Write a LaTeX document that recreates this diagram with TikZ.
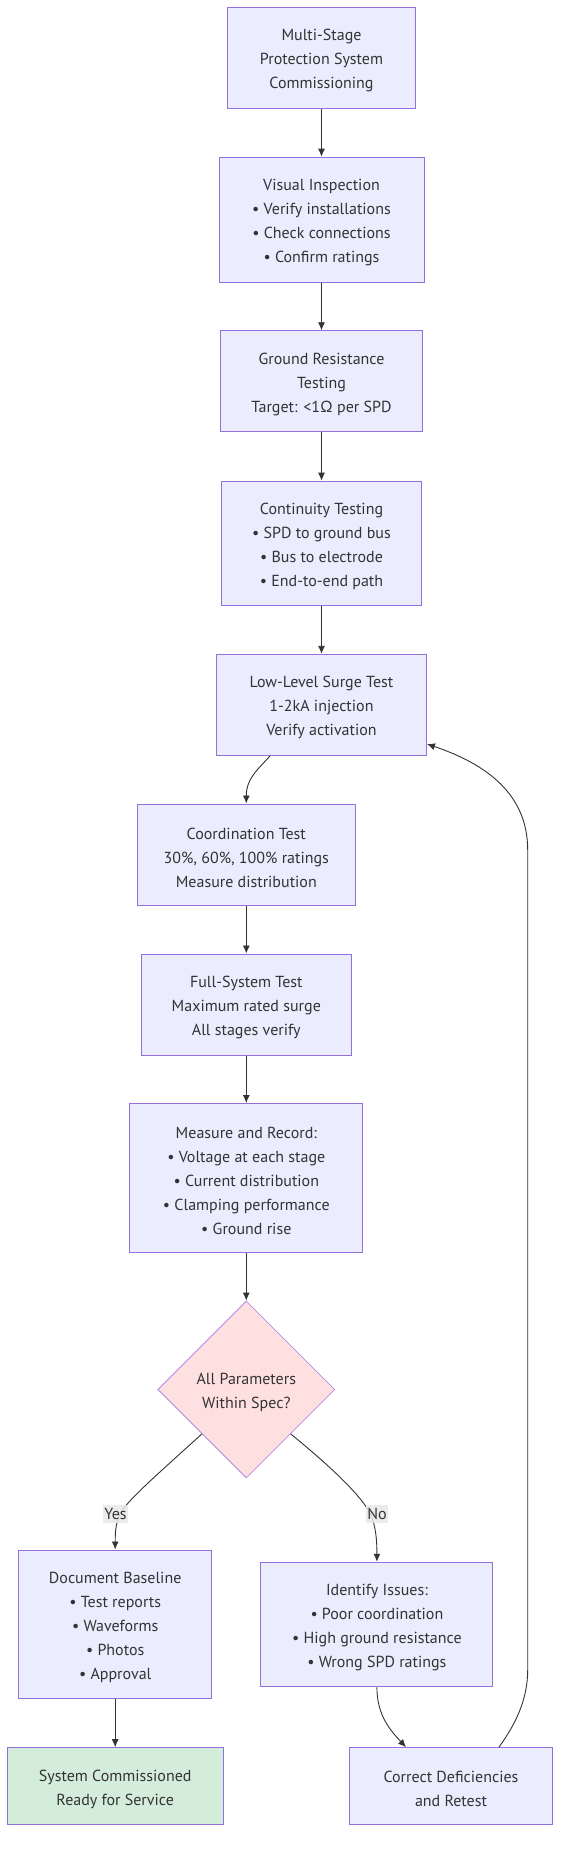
\documentclass[tikz,border=0pt]{standalone}
\usepackage{fontspec}
\setmainfont{PT Sans}
\usetikzlibrary{shapes.geometric,arrows.meta}
\definecolor{nodefill}{HTML}{ECECFF}
\definecolor{nodestroke}{HTML}{9370DB}
\definecolor{decfill}{HTML}{FFE0E0}
\definecolor{decstroke}{HTML}{B48CE8}
\definecolor{okfill}{HTML}{D4EDDA}
\definecolor{txt}{HTML}{333333}
\definecolor{edgecol}{HTML}{333333}
\definecolor{lblbg}{HTML}{E8E8E8}
\begin{document}
\begin{tikzpicture}[x=1pt,y=-1pt,
  boxtext/.style={align=center, inner sep=0pt, text=txt, font=\fontsize{16}{24}\selectfont, yshift=-3pt},
  txtin/.style={label={[boxtext]center:{#1}}},
  box/.style={draw=nodestroke, fill=nodefill, line width=1pt, inner sep=0pt},
  okbox/.style={box, fill=okfill},
  decision/.style={diamond, aspect=1, draw=decstroke, fill=decfill, line width=0.8pt, inner sep=0pt, minimum width=177pt, minimum height=177pt},
  arr/.style={draw=edgecol, line width=0.9pt, -{Latex[length=8pt,width=7pt]}},
  lbl/.style={fill=lblbg, fill opacity=0.85, text opacity=1, text=txt, inner xsep=1pt, inner ysep=3pt, font=\fontsize{16}{18}\selectfont}
]
\useasboundingbox (0,0) rectangle (568,1859);
\fill[white] (0,0) rectangle (568,1859);

\node[box, minimum width=188pt, minimum height=101pt, txtin={Multi-Stage\\Protection System\\Commissioning}] (start) at (321.5,57.8) {};
\node[box, minimum width=205pt, minimum height=125pt, txtin={Visual Inspection\\• Verify installations\\• Check connections\\• Confirm ratings}] (visual) at (321.5,219.7) {};
\node[box, minimum width=202pt, minimum height=101pt, txtin={Ground Resistance\\Testing\\Target: <1Ω per SPD}] (ground) at (321.5,381.3) {};
\node[box, minimum width=200pt, minimum height=124pt, txtin={Continuity Testing\\• SPD to ground bus\\• Bus to electrode\\• End-to-end path}] (cont) at (321.5,543.2) {};
\node[box, minimum width=210pt, minimum height=101pt, txtin={Low-Level Surge Test\\1-2kA injection\\Verify activation}] (low) at (321.5,704.8) {};
\node[box, minimum width=218pt, minimum height=101pt, txtin={Coordination Test\\30\%, 60\%, 100\% ratings\\Measure distribution}] (coord) at (246.3,854.5) {};
\node[box, minimum width=210pt, minimum height=101pt, txtin={Full-System Test\\Maximum rated surge\\All stages verify}] (full) at (246.3,1004.5) {};
\node[box, minimum width=233pt, minimum height=149pt, txtin={Measure and Record:\\• Voltage at each stage\\• Current distribution\\• Clamping performance\\• Ground rise}] (meas) at (246.3,1178) {};
\node[decision, txtin={All Parameters\\Within Spec?}] (dec) at (246.3,1389.5) {};
\node[box, minimum width=193pt, minimum height=148pt, txtin={Document Baseline\\• Test reports\\• Waveforms\\• Photos\\• Approval}] (doc) at (115.2,1624) {};
\node[box, minimum width=232pt, minimum height=124.5pt, txtin={Identify Issues:\\• Poor coordination\\• High ground resistance\\• Wrong SPD ratings}] (ident) at (376.9,1624.5) {};
\node[okbox, minimum width=216pt, minimum height=77pt, txtin={System Commissioned\\Ready for Service}] (sys) at (115.2,1786.2) {};
\node[box, minimum width=203pt, minimum height=77pt, txtin={Correct Deficiencies\\and Retest}] (corr) at (451,1786.2) {};

\draw[arr] (start) -- (visual);
\draw[arr] (visual) -- (ground);
\draw[arr] (ground) -- (cont);
\draw[arr] (cont) -- (low);
\draw[arr] ([xshift=-51.3pt]low.south) .. controls (255,772) and (246.3,780) .. (coord.north);
\draw[arr] (coord) -- (full);
\draw[arr] (full) -- (meas);
\draw[arr] (meas) -- (dec);
\draw[arr] (dec.south west) .. controls (160,1472) and (130,1498) .. (121,1512) .. controls (116,1522) and (115.2,1530) .. (doc.north);
\draw[arr] (dec.south east) .. controls (330,1466) and (362,1496) .. (371,1515) .. controls (376,1528) and (376.9,1540) .. (ident.north);
\draw[arr] (doc) -- (sys);
\draw[arr] (ident.south) .. controls (376.9,1715) and (390,1730) .. ([xshift=-45pt]corr.north);
\draw[arr] ([xshift=47.9pt]corr.north) .. controls (515,1725) and (527.7,1700) .. (527.7,1670) -- (527.7,850) .. controls (527.7,790) and (480,762) .. ([yshift=-39.2pt]low.east);

\node[lbl] (yes) at (115.5,1514) {Yes};
\node[lbl] (no) at (377,1514) {No};
\end{tikzpicture}
\end{document}
